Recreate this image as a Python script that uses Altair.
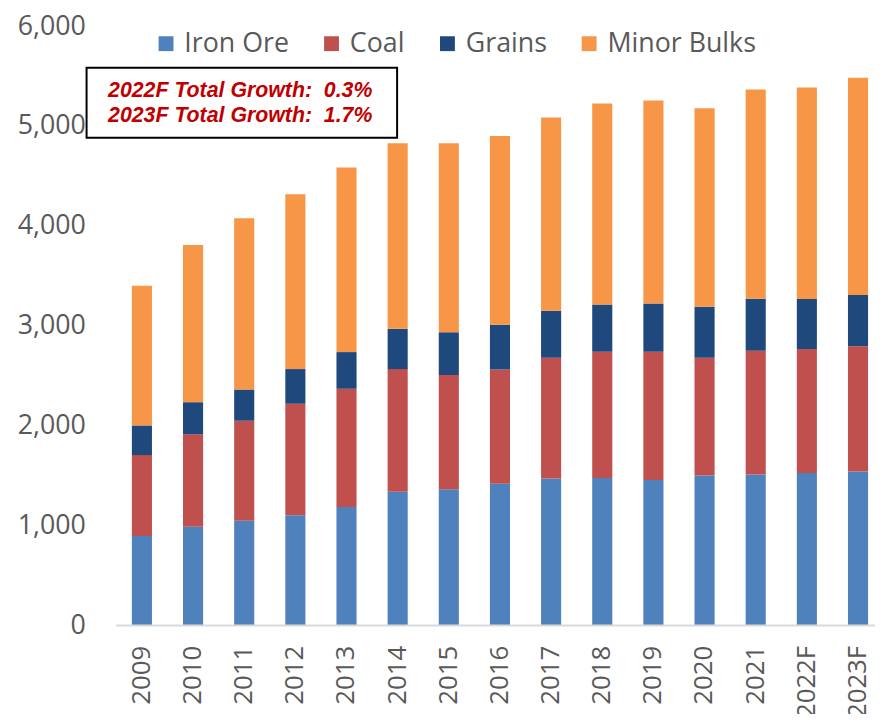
import altair as alt
import pandas as pd

years = ["2009", "2010", "2011", "2012", "2013", "2014", "2015", "2016",
         "2017", "2018", "2019", "2020", "2021", "2022F", "2023F"]
series = ["Iron Ore", "Coal", "Grains", "Minor Bulks"]
colors = ["#4F81BD", "#C0504D", "#1F497D", "#F79646"]

iron_ore = [897, 990, 1049, 1104, 1187, 1339, 1365, 1420, 1473, 1476, 1456, 1502, 1512, 1528, 1542]
coal = [809, 924, 1000, 1116, 1183, 1228, 1142, 1142, 1208, 1264, 1284, 1179, 1238, 1241, 1253]
grains = [297, 322, 313, 347, 367, 403, 428, 449, 469, 473, 483, 509, 522, 500, 513]
minor_bulks = [1397, 1574, 1715, 1750, 1847, 1857, 1892, 1888, 1936, 2011, 2031, 1988, 2093, 2116, 2176]

y_ticks = [0, 1000, 2000, 3000, 4000, 5000, 6000]
note_lines = ["2022F Total Growth:\u00a0 0.3%", "2023F Total Growth:\u00a0 1.7%"]

rows = []
for s_idx, (name, vals) in enumerate(zip(series, [iron_ore, coal, grains, minor_bulks])):
    for yr, v in zip(years, vals):
        rows.append({"year": yr, "series": name, "value": v, "idx": s_idx})
df = pd.DataFrame(rows)

bars = alt.Chart(df).mark_bar().encode(
    x=alt.X("year:N", sort=years, title=None,
            scale=alt.Scale(paddingInner=0.607, paddingOuter=0.155, align=1),
            axis=alt.Axis(labelAngle=-90, labelFontSize=26, labelFont="Open Sans",
                          labelColor="#595959", ticks=False, tickSize=0,
                          labelPadding=20, domain=False)),
    y=alt.Y("value:Q", stack="zero", title=None,
            scale=alt.Scale(domain=[0, 6000], nice=False),
            axis=alt.Axis(values=y_ticks, format=",.0f", labelFontSize=27,
                          labelFont="Open Sans", labelColor="#595959",
                          ticks=False, tickSize=0, domain=False, grid=False,
                          labelPadding=31)),
    color=alt.Color("series:N", scale=alt.Scale(domain=series, range=colors),
                    legend=alt.Legend(title=None, orient="none", direction="horizontal",
                                      columns=4, legendX=37, legendY=4,
                                      symbolType="square", symbolSize=225,
                                      symbolStrokeWidth=0, labelFontSize=27,
                                      labelFont="Open Sans", labelColor="#595959",
                                      labelOffset=5, columnPadding=29)),
    order=alt.Order("idx:Q", sort="ascending"),
)

one = pd.DataFrame({"k": [0]})
baseline = alt.Chart(one).mark_rule(color="#D9D9D9", strokeWidth=2).encode(
    x=alt.value(0), x2=alt.value(775), y=alt.value(605)
)
box = alt.Chart(one).mark_rect(fill="white", stroke="black", strokeWidth=2).encode(
    x=alt.value(-29.7), x2=alt.value(283.7), y=alt.value(42), y2=alt.value(112.7)
)
note = alt.Chart(one).mark_text(
    text=note_lines, font="Liberation Sans", fontSize=21.5, fontWeight="bold",
    fontStyle="italic", color="#C00000", align="left", baseline="middle",
    lineHeight=25
).encode(x=alt.value(-8), y=alt.value(65.3))

chart = alt.layer(bars, baseline, box, note).properties(
    width=759, height=605,
    autosize=alt.AutoSizeParams(type="none"),
    padding={"left": 109, "top": 15, "right": 7, "bottom": 86},
).configure_view(stroke=None)

chart.save("out.html", embed_options={"renderer": "svg", "actions": False})
